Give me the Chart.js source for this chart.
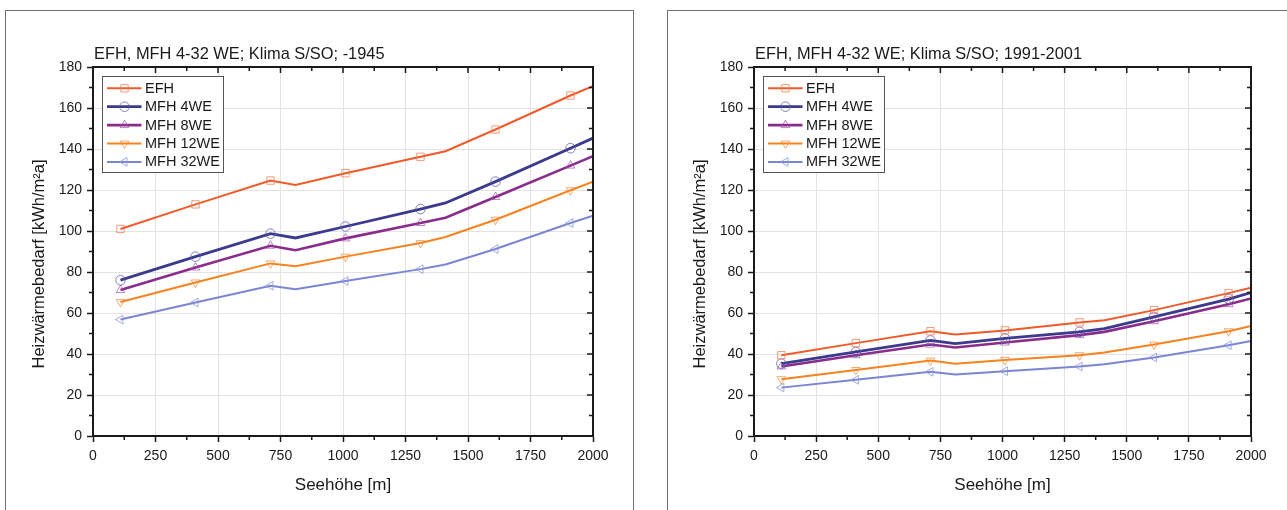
<!DOCTYPE html>
<html>
<head>
<meta charset="utf-8">
<script src="https://cdn.jsdelivr.net/npm/chart.js@4.4.1/dist/chart.umd.min.js"></script>
<style>
  html, body { margin: 0; padding: 0; background: #fff; }
  body { width: 1287px; height: 510px; position: relative; overflow: hidden; }
  .frame { position: absolute; border: 1px solid #707070; }
  canvas { position: absolute; top: 0; }
</style>
</head>
<body>
<div class="frame" style="left:5px;top:10px;width:627px;height:520px"></div>
<div class="frame" style="left:667px;top:10px;width:640px;height:520px"></div>
<canvas id="chartOld" width="640" height="510" style="left:0"></canvas>
<canvas id="chartNew" width="640" height="510" style="left:647px"></canvas>
<script>
// Seehöhe [m]
const altitudes = [110, 410, 710, 810, 1010, 1310, 1410, 1610, 1910, 2000];
const xTickValues = [0, 250, 500, 750, 1000, 1250, 1500, 1750, 2000];
const yTickValues = [0, 20, 40, 60, 80, 100, 120, 140, 160, 180];
const seriesNames = ['EFH', 'MFH 4WE', 'MFH 8WE', 'MFH 12WE', 'MFH 32WE'];

// Baujahr -1945
const efh1945 = [101.0, 113.0, 124.6, 122.4, 128.2, 136.2, 138.9, 149.5, 166.1, 170.7];
const mfh4_1945 = [76.0, 87.5, 98.7, 96.6, 102.2, 110.7, 113.7, 124.1, 140.4, 145.3];
const mfh8_1945 = [71.2, 82.2, 92.8, 90.6, 96.4, 103.9, 106.5, 116.6, 131.9, 136.5];
const mfh12_1945 = [65.4, 74.9, 84.2, 82.8, 87.5, 94.1, 97.1, 105.5, 119.9, 124.1];
const mfh32_1945 = [56.8, 65.1, 73.3, 71.6, 75.6, 81.4, 83.7, 91.2, 103.9, 107.5];

// Baujahr 1991-2001
const efh1991 = [39.4, 45.3, 51.1, 49.5, 51.5, 55.4, 56.5, 61.4, 69.7, 72.3];
const mfh4_1991 = [35.3, 41.0, 46.6, 45.1, 47.6, 50.8, 52.4, 58.1, 66.8, 70.0];
const mfh8_1991 = [33.9, 39.4, 44.6, 43.2, 45.6, 49.2, 50.8, 56.0, 64.3, 67.1];
const mfh12_1991 = [27.7, 32.2, 36.8, 35.3, 37.1, 39.4, 40.7, 44.6, 51.1, 53.7];
const mfh32_1991 = [23.6, 27.4, 31.3, 30.0, 31.6, 33.9, 35.0, 38.3, 44.3, 46.3];

const lineColors = ['#f05a28', '#3b3a8e', '#8a2c8c', '#f7821e', '#7c85d4'];
const markerColors = ['rgba(240,120,80,0.75)', 'rgba(90,90,170,0.75)', 'rgba(160,80,165,0.7)',
  'rgba(247,140,60,0.75)', 'rgba(140,150,220,0.8)'];
const lineWidths = [2, 2.8, 2.6, 2, 2];
const markerStyles = ['rect', 'circle', 'triangle', 'triangle', 'triangle'];
const markerRotations = [0, 0, 0, 180, 270];
const markerRadius = [5.2, 4.8, 5, 5, 5];

const FONT = '"Liberation Sans", Arial, sans-serif';
const TEXT = '#1a1a1a';
Chart.defaults.font.family = FONT;

function drawMarker(ctx, style, rotation, x, y, r) {
  ctx.save();
  ctx.translate(x, y);
  ctx.rotate(rotation * Math.PI / 180);
  ctx.beginPath();
  if (style === 'rect') {
    const s = r * Math.SQRT1_2;
    ctx.rect(-s, -s, 2 * s, 2 * s);
  } else if (style === 'circle') {
    ctx.arc(0, 0, r, 0, Math.PI * 2);
  } else {
    ctx.moveTo(0, -r);
    ctx.lineTo(r * 0.866, r * 0.5);
    ctx.lineTo(-r * 0.866, r * 0.5);
    ctx.closePath();
  }
  ctx.stroke();
  ctx.restore();
}

function decorPlugin(title) {
  return {
    id: 'decor',
    afterDatasetsDraw(chart) {
      const ctx = chart.ctx;
      const a = chart.chartArea;
      const xs = chart.scales.x;
      const ys = chart.scales.y;
      ctx.save();
      ctx.strokeStyle = TEXT;
      // top and right axis lines
      ctx.lineWidth = 2;
      ctx.beginPath();
      ctx.moveTo(a.left - 1, a.top);
      ctx.lineTo(a.right, a.top);
      ctx.lineTo(a.right, a.bottom + 1);
      ctx.stroke();
      ctx.lineWidth = 1.5;
      ctx.beginPath();
      for (let v = 125; v < 2000; v += 250) {
        const px = xs.getPixelForValue(v);
        ctx.moveTo(px, a.bottom); ctx.lineTo(px, a.bottom + 4);
        ctx.moveTo(px, a.top); ctx.lineTo(px, a.top + 4);
      }
      xTickValues.forEach((v) => {
        const px = xs.getPixelForValue(v);
        ctx.moveTo(px, a.top); ctx.lineTo(px, a.top + 6);
      });
      for (let v = 10; v < 180; v += 20) {
        const py = ys.getPixelForValue(v);
        ctx.moveTo(a.left, py); ctx.lineTo(a.left - 4, py);
        ctx.moveTo(a.right, py); ctx.lineTo(a.right - 4, py);
      }
      yTickValues.forEach((v) => {
        const py = ys.getPixelForValue(v);
        ctx.moveTo(a.right, py); ctx.lineTo(a.right - 6, py);
      });
      ctx.stroke();
      ctx.restore();
    },
    afterDraw(chart) {
      const ctx = chart.ctx;
      const a = chart.chartArea;
      ctx.save();
      ctx.fillStyle = TEXT;
      ctx.textBaseline = 'middle';
      ctx.font = '16.4px ' + FONT;
      ctx.textAlign = 'left';
      ctx.fillText(title, a.left + 1, 54);
      ctx.textAlign = 'center';
      ctx.font = '17px ' + FONT;
      ctx.fillText('Seehöhe [m]', (a.left + a.right) / 2, 485);
      ctx.save();
      ctx.translate(a.left - 54, 264);
      ctx.rotate(-Math.PI / 2);
      ctx.font = '16.5px ' + FONT;
      ctx.fillText('Heizwärmebedarf [kWh/m²a]', 0, 0);
      ctx.restore();

      // legend box
      const lx = a.left + 9.5;
      const ly = 76.5;
      ctx.strokeStyle = '#555';
      ctx.lineWidth = 1;
      ctx.fillStyle = '#fff';
      ctx.fillRect(lx, ly, 121, 96);
      ctx.strokeRect(lx, ly, 121, 96);
      chart.data.datasets.forEach((ds, i) => {
        const y = 88.3 + i * 18.4;
        ctx.strokeStyle = lineColors[i];
        ctx.lineWidth = lineWidths[i];
        ctx.beginPath();
        ctx.moveTo(lx + 4.5, y);
        ctx.lineTo(lx + 39, y);
        ctx.stroke();
        ctx.strokeStyle = markerColors[i];
        ctx.lineWidth = 1;
        drawMarker(ctx, markerStyles[i], markerRotations[i], lx + 22, y, markerRadius[i]);
        ctx.fillStyle = TEXT;
        ctx.font = '14.5px ' + FONT;
        ctx.textAlign = 'left';
        ctx.fillText(ds.label, lx + 42.5, y + 0.5);
      });
      ctx.restore();
    }
  };
}

function makeChart(canvasId, title, series, yAxisWidth, rightPad) {
  const datasets = series.map((vals, i) => ({
    label: seriesNames[i],
    data: altitudes.map((alt, k) => ({ x: alt, y: vals[k] })),
    borderColor: lineColors[i],
    borderWidth: lineWidths[i],
    pointStyle: markerStyles[i],
    pointRotation: markerRotations[i],
    pointRadius: altitudes.map((alt) => ((alt - 110) % 300 === 0 ? markerRadius[i] : 0)),
    pointBorderColor: markerColors[i],
    pointBackgroundColor: 'rgba(255,255,255,0)',
    pointBorderWidth: 1,
    tension: 0,
    fill: false,
  }));

  return new Chart(document.getElementById(canvasId), {
    type: 'line',
    data: { datasets },
    options: {
      responsive: false,
      animation: false,
      devicePixelRatio: 1,
      layout: { padding: { left: 0, top: 67, right: rightPad, bottom: 14 } },
      plugins: { legend: { display: false }, tooltip: { enabled: false } },
      scales: {
        x: {
          type: 'linear',
          min: 0,
          max: 2000,
          afterBuildTicks: (s) => { s.ticks = xTickValues.map((v) => ({ value: v })); },
          afterFit: (s) => { s.height = 60; },
          ticks: {
            color: TEXT, font: { size: 14 }, padding: 6, maxRotation: 0, autoSkip: false,
            callback: (v) => String(v),
          },
          grid: { color: '#e3e3e3', lineWidth: 1, tickLength: 6, tickColor: TEXT, tickWidth: 1.5 },
          border: { color: TEXT, width: 2 },
        },
        y: {
          min: 0,
          max: 180,
          afterBuildTicks: (s) => { s.ticks = yTickValues.map((v) => ({ value: v })); },
          afterFit: (s) => { s.width = yAxisWidth; },
          ticks: { color: TEXT, font: { size: 14 }, padding: 5, autoSkip: false, callback: (v) => String(v) },
          grid: { color: '#e3e3e3', lineWidth: 1, tickLength: 6, tickColor: TEXT, tickWidth: 1.5 },
          border: { color: TEXT, width: 2 },
        },
      },
    },
    plugins: [decorPlugin(title)],
  });
}

makeChart('chartOld', 'EFH, MFH 4-32 WE; Klima S/SO; -1945',
  [efh1945, mfh4_1945, mfh8_1945, mfh12_1945, mfh32_1945], 93, 47);
makeChart('chartNew', 'EFH, MFH 4-32 WE; Klima S/SO; 1991-2001',
  [efh1991, mfh4_1991, mfh8_1991, mfh12_1991, mfh32_1991], 107, 36);
</script>
</body>
</html>
